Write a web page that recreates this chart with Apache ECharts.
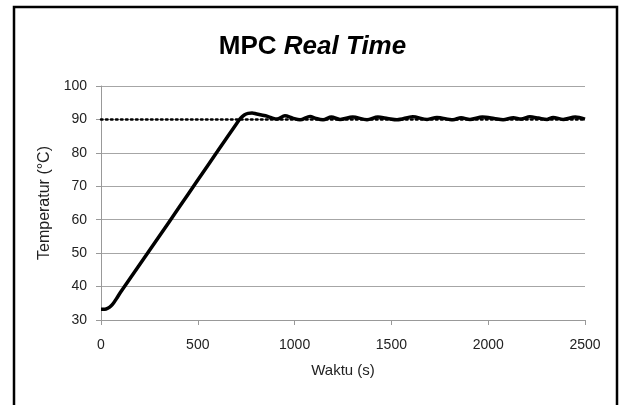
<!DOCTYPE html>
<html>
<head>
<meta charset="utf-8">
<script src="https://cdn.jsdelivr.net/npm/echarts@6/dist/echarts.min.js"></script>
<style>
  html, body { margin: 0; padding: 0; background: #fff; }
  #chart { width: 625px; height: 405px; }
</style>
</head>
<body>
<div id="chart"></div>
<script>
// waktu (s) dan temperatur (°C)
const waktu = [0, 20, 35, 50, 65, 80, 100, 200, 300, 400, 500, 600, 700, 720, 740, 760, 780, 800, 850, 880, 909,
  950, 990, 1028, 1080, 1110, 1147, 1190, 1235, 1300, 1374, 1430, 1480, 1529, 1610, 1684, 1735,
  1818, 1860, 1906, 1970, 2030, 2077, 2130, 2170, 2215, 2260, 2304, 2335, 2387, 2450, 2500];
const temperatur = [33.2, 33.2, 33.5, 34.1, 35.1, 36.4, 38.2, 46.6, 55.0, 63.4, 71.9, 80.3, 88.7, 90.3, 91.3, 91.8, 91.9, 91.7, 91.1, 90.5, 90.1,
  91.1, 90.4, 89.9, 90.9, 90.3, 89.9, 90.7, 90.0, 90.7, 89.9, 90.7, 90.3, 89.9, 90.8, 90.0, 90.6,
  89.9, 90.5, 90.0, 90.7, 90.3, 89.9, 90.5, 90.1, 90.8, 90.4, 90.0, 90.6, 90.0, 90.7, 90.1];
const setpointWaktu = [0, 2500];
const setpointNilai = [90, 90];
const xTicks = [0, 500, 1000, 1500, 2000, 2500];
const yTicks = [30, 40, 50, 60, 70, 80, 90, 100];

const font = "'Liberation Sans', Arial, sans-serif";
const chart = echarts.init(document.getElementById('chart'));

chart.setOption({
  animation: false,
  title: {
    text: '{b|MPC }{i|Real Time}',
    left: 'center',
    top: 29,
    textStyle: {
      rich: {
        b: { fontFamily: font, fontWeight: 'bold', fontSize: 26, color: '#000' },
        i: { fontFamily: font, fontWeight: 'bold', fontStyle: 'italic', fontSize: 26, color: '#000' }
      }
    }
  },
  graphic: [
    {
      type: 'rect',
      shape: { x: 14, y: 7, width: 603, height: 410 },
      style: { fill: 'none', stroke: '#000', lineWidth: 2.5 }
    },
    {
      type: 'text',
      left: 310, top: -16,
      style: { text: '(a)', fontFamily: font, fontSize: 16, fill: '#000' }
    }
  ],
  grid: { left: 101, right: 40, top: 86, bottom: 85 },
  xAxis: {
    type: 'value',
    min: xTicks[0],
    max: xTicks[xTicks.length - 1],
    interval: 500,
    name: 'Waktu (s)',
    nameLocation: 'middle',
    nameGap: 43,
    nameTextStyle: { fontFamily: font, fontSize: 15, color: '#222' },
    axisLine: { lineStyle: { color: '#999', width: 1 } },
    axisTick: { show: true, length: 5, lineStyle: { color: '#999' } },
    axisLabel: { fontFamily: font, fontSize: 14, color: '#222', margin: 18, formatter: v => String(v) },
    splitLine: { show: false }
  },
  yAxis: {
    type: 'value',
    min: yTicks[0],
    max: yTicks[yTicks.length - 1],
    interval: 10,
    name: 'Temperatur (°C)',
    nameLocation: 'middle',
    nameGap: 46,
    nameTextStyle: { fontFamily: font, fontSize: 16, color: '#222' },
    axisLine: { show: true, lineStyle: { color: '#999', width: 1 } },
    axisTick: { show: true, length: 5, lineStyle: { color: '#999' } },
    axisLabel: { fontFamily: font, fontSize: 14, color: '#222', margin: 14 },
    splitLine: { show: true, lineStyle: { color: '#a6a6a6', width: 1 } }
  },
  series: [
    {
      // setpoint
      type: 'line',
      data: setpointWaktu.map((t, i) => [t, setpointNilai[i]]),
      symbol: 'none',
      lineStyle: { color: '#000', width: 2.5, type: [1.5, 3.5], cap: 'round' },
      z: 2
    },
    {
      type: 'line',
      data: waktu.map((t, i) => [t, temperatur[i]]),
      symbol: 'none',
      smooth: 0.3,
      lineStyle: { color: '#000', width: 3.5 },
      z: 3
    }
  ]
});
</script>
</body>
</html>
